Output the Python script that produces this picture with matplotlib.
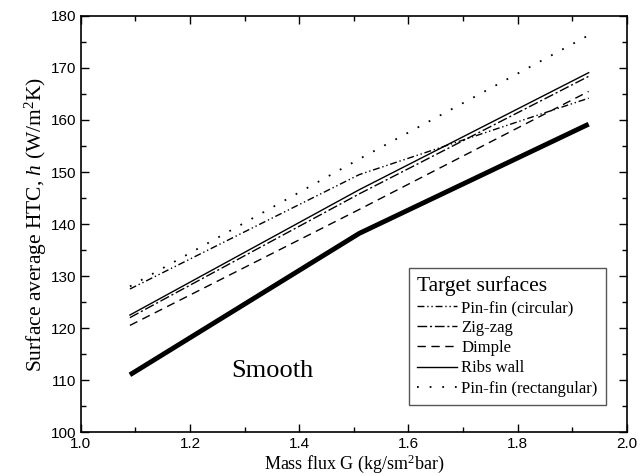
import matplotlib
matplotlib.use("Agg")
import matplotlib.pyplot as plt
from matplotlib.ticker import MultipleLocator, FormatStrFormatter

G = [1.09, 1.51, 1.93]
smooth = [111.0, 138.2, 159.2]
pin_circ = [127.5, 149.5, 164.2]
zigzag = [122.0, 145.8, 168.4]
dimple = [120.5, 142.8, 165.5]
ribs = [122.5, 146.6, 169.1]
pin_rect = [128.0, 152.5, 176.3]

labels = ["Pin-fin (circular)", "Zig-zag", "Dimple", "Ribs wall", "Pin-fin (rectangular)"]
series = [pin_circ, zigzag, dimple, ribs, pin_rect]
styles = [(0, (5, 2, 1, 2, 1, 2)), (0, (7, 2, 1.5, 2)), (0, (6, 4)), "-", (0, (1, 6))]
widths = [1.0, 1.0, 1.0, 1.0, 1.3]

serif = "Liberation Serif"
sans = "Liberation Sans"
plt.rcParams["mathtext.fontset"] = "custom"
plt.rcParams["mathtext.rm"] = serif
plt.rcParams["mathtext.it"] = serif + ":italic"
plt.rcParams["mathtext.bf"] = serif + ":bold"

fig = plt.figure(figsize=(6.41, 4.76), dpi=100)
ax = fig.add_axes([0.126, 0.0924, 0.852, 0.874])

ax.plot(G, smooth, color="black", lw=3.5, solid_capstyle="butt")
for s, lab, ls, w in zip(series, labels, styles, widths):
    ax.plot(G, s, color="black", lw=w, linestyle=ls, label=lab)

ax.text(1.35, 111.8, "Smooth", fontsize=19, family=serif, ha="center", va="center")

ax.set_xlim(1.0, 2.0)
ax.set_ylim(100, 180)
ax.xaxis.set_major_locator(MultipleLocator(0.2))
ax.xaxis.set_minor_locator(MultipleLocator(0.1))
ax.yaxis.set_major_locator(MultipleLocator(10))
ax.yaxis.set_minor_locator(MultipleLocator(5))
ax.xaxis.set_major_formatter(FormatStrFormatter("%.1f"))
ax.tick_params(which="both", direction="in", top=True, right=True)
ax.tick_params(which="major", length=6, width=1)
ax.tick_params(which="minor", length=3.5, width=1)
for lab in ax.get_xticklabels() + ax.get_yticklabels():
    lab.set_fontfamily(sans)
    lab.set_fontsize(11)
ax.set_xlabel(r"Mass flux G (kg/sm$^2$bar)", family=serif, fontsize=13, labelpad=1)
ax.set_ylabel(r"Surface average HTC, $h$ (W/m$^2$K)", family=serif, fontsize=15.5, labelpad=1)
for sp in ax.spines.values():
    sp.set_linewidth(1.2)

leg = ax.legend(title="Target surfaces", loc="lower right", bbox_to_anchor=(0.962, 0.065),
                borderaxespad=0, prop={"family": serif, "size": 12}, handlelength=2.4,
                handletextpad=0.25, labelspacing=0.25, borderpad=0.5, fancybox=False,
                framealpha=1, edgecolor="#555555")
leg.get_title().set_fontfamily(serif)
leg.get_title().set_fontsize(15.5)
leg._legend_box.align = "left"
leg.get_frame().set_linewidth(1.0)

fig.savefig("out.png", dpi=100)
